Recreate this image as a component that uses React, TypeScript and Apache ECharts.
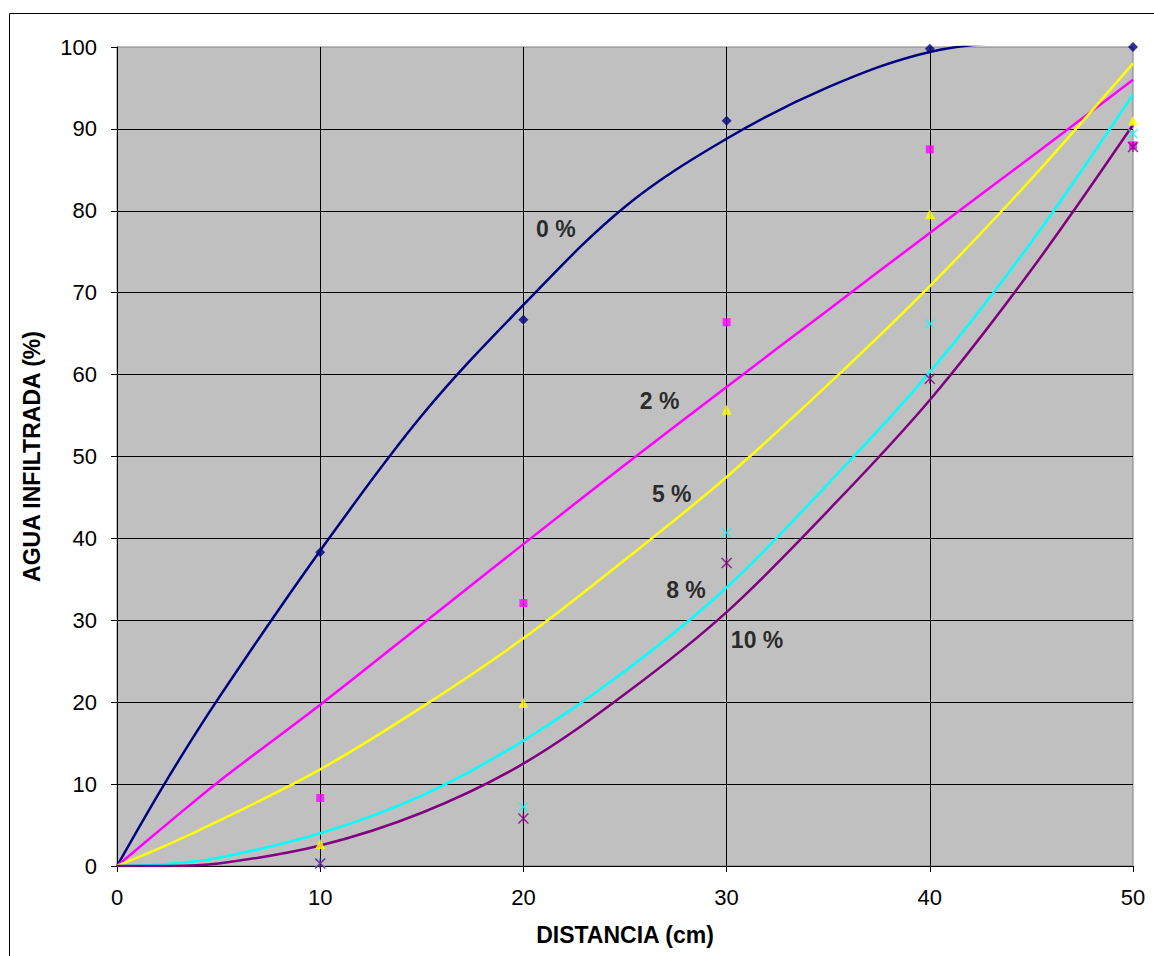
import React, { useEffect, useRef } from "react";
import * as echarts from "echarts";

// Trend-line sample points
const curveX = [0, 2.5, 5, 10, 15, 20, 25, 30, 35, 40, 45, 50];
const curve0 = [0, 10.7, 20.5, 38.5, 55, 68.5, 80.5, 88.8, 95.1, 99.4, 100.8, 101.5];
const curve2 = [0, 5.2, 10.3, 19.7, 29.5, 39.3, 49, 58.5, 67.9, 77.3, 86.6, 96];
const curve5 = [0, 2.6, 5.5, 11.8, 19.4, 27.8, 37.4, 47.5, 58.8, 70.8, 83.9, 98];
const curve8 = [0, 0.25, 1.0, 4.0, 8.6, 15.3, 23.8, 34, 46.7, 60.3, 76.2, 94.2];
const curve10 = [0, 0, 0.3, 2.5, 6.5, 12.5, 21, 31, 43.4, 56.9, 72.8, 90.5];

// Measured points
const pointX = [10, 20, 30, 40, 50];
const obs0 = [38.3, 66.7, 91, 99.8, 100];
const obs2 = [8.3, 32.1, 66.4, 87.5, 88.0];
const obs5 = [2.7, 19.9, 55.7, 79.6, 91.0];
const obs8 = [0.4, 7.2, 40.7, 66.2, 89.4];
const obs10 = [0.3, 5.8, 37.0, 59.5, 87.8];

// Curve labels
const labelNames = ["0 %", "2 %", "5 %", "8 %", "10 %"];
const labelX = [21.6, 26.7, 27.3, 28.0, 31.5];
const labelY = [77.8, 56.8, 45.4, 33.7, 27.6];

const xTicks = [0, 10, 20, 30, 40, 50];
const yMin = 0;
const yMax = 100;

const colors = ["#000080", "#ff00ff", "#ffff00", "#00ffff", "#800080"];
const FONT = "'Liberation Sans', Arial, sans-serif";

const pair = (xs: number[], ys: number[]) => xs.map((x, i) => [x, ys[i]]);

export default function App() {
  const ref = useRef<HTMLDivElement>(null);
  useEffect(() => {
    if (!ref.current) return;
    const chart = echarts.init(ref.current, undefined, { renderer: "svg" });
    const curves = [curve0, curve2, curve5, curve8, curve10];
    const obs = [obs0, obs2, obs5, obs8, obs10];
    const symbols = [
      "diamond",
      "rect",
      "triangle",
      "path://M0,0L10,10M10,0L0,10",
      "path://M0,0L10,10M10,0L0,10M5,0L5,10",
    ];
    const symSizes = [10, 8, 10, 9, 10];
    const series: any[] = [];
    curves.forEach((c, i) => {
      series.push({
        type: "line",
        data: pair(curveX, c),
        smooth: 0.35,
        showSymbol: false,
        symbol: "none",
        clip: true,
        lineStyle: { color: colors[i], width: 2.5 },
        z: 3,
        silent: true,
      });
    });
    obs.forEach((o, i) => {
      const isStroke = i >= 3;
      series.push({
        type: "scatter",
        data: pair(pointX, o),
        symbol: symbols[i],
        symbolSize: symSizes[i],
        clip: false,
        itemStyle: isStroke
          ? { color: "none", borderColor: colors[i], borderWidth: 1.5 }
          : { color: colors[i] },
        z: 4,
        silent: true,
      });
    });
    series.push({
      type: "scatter",
      data: labelNames.map((n, i) => ({ name: n, value: [labelX[i], labelY[i]] })),
      symbolSize: 0,
      clip: false,
      label: {
        show: true,
        position: "inside",
        formatter: "{b}",
        color: "#000",
        fontWeight: "bold",
        fontSize: 23,
        fontFamily: FONT,
      },
      z: 5,
      silent: true,
    });

    chart.setOption({
      animation: false,
      backgroundColor: "#ffffff",
      grid: {
        left: 117,
        top: 47,
        width: 1016,
        height: 819,
        show: true,
        backgroundColor: "#c0c0c0",
        borderColor: "#808080",
        borderWidth: 1,
      },
      graphic: [
        {
          type: "rect",
          z: -10,
          shape: { x: 9.5, y: 13.5, width: 1200, height: 1000 },
          style: { fill: "none", stroke: "#000", lineWidth: 1 },
        },
      ],
      xAxis: {
        type: "value",
        min: xTicks[0],
        max: xTicks[xTicks.length - 1],
        interval: 10,
        name: "DISTANCIA (cm)",
        nameLocation: "middle",
        nameGap: 57,
        nameTextStyle: { fontFamily: FONT, fontWeight: "bold", fontSize: 23, color: "#000" },
        axisLine: { show: true, lineStyle: { color: "#000", width: 1 } },
        axisTick: { show: true, inside: false, length: 6, lineStyle: { color: "#000" } },
        axisLabel: { fontFamily: FONT, fontSize: 22, color: "#000", margin: 20 },
        splitLine: { show: true, showMinLine: false, showMaxLine: false, lineStyle: { color: "#000", width: 1 } },
      },
      yAxis: {
        type: "value",
        min: yMin,
        max: yMax,
        interval: 10,
        name: "AGUA INFILTRADA (%)",
        nameLocation: "middle",
        nameGap: 74,
        nameRotate: 90,
        nameTextStyle: { fontFamily: FONT, fontWeight: "bold", fontSize: 23, color: "#000" },
        axisLine: { show: true, lineStyle: { color: "#000", width: 1 } },
        axisTick: { show: true, inside: false, length: 6, lineStyle: { color: "#000" } },
        axisLabel: { fontFamily: FONT, fontSize: 22, color: "#000", margin: 20 },
        splitLine: { show: true, showMinLine: false, showMaxLine: false, lineStyle: { color: "#000", width: 1 } },
      },
      series,
    });
    return () => chart.dispose();
  }, []);
  return (
    <div
      ref={ref}
      style={{ position: "fixed", left: 0, top: 0, width: 1154, height: 956, background: "#fff" }}
    />
  );
}
